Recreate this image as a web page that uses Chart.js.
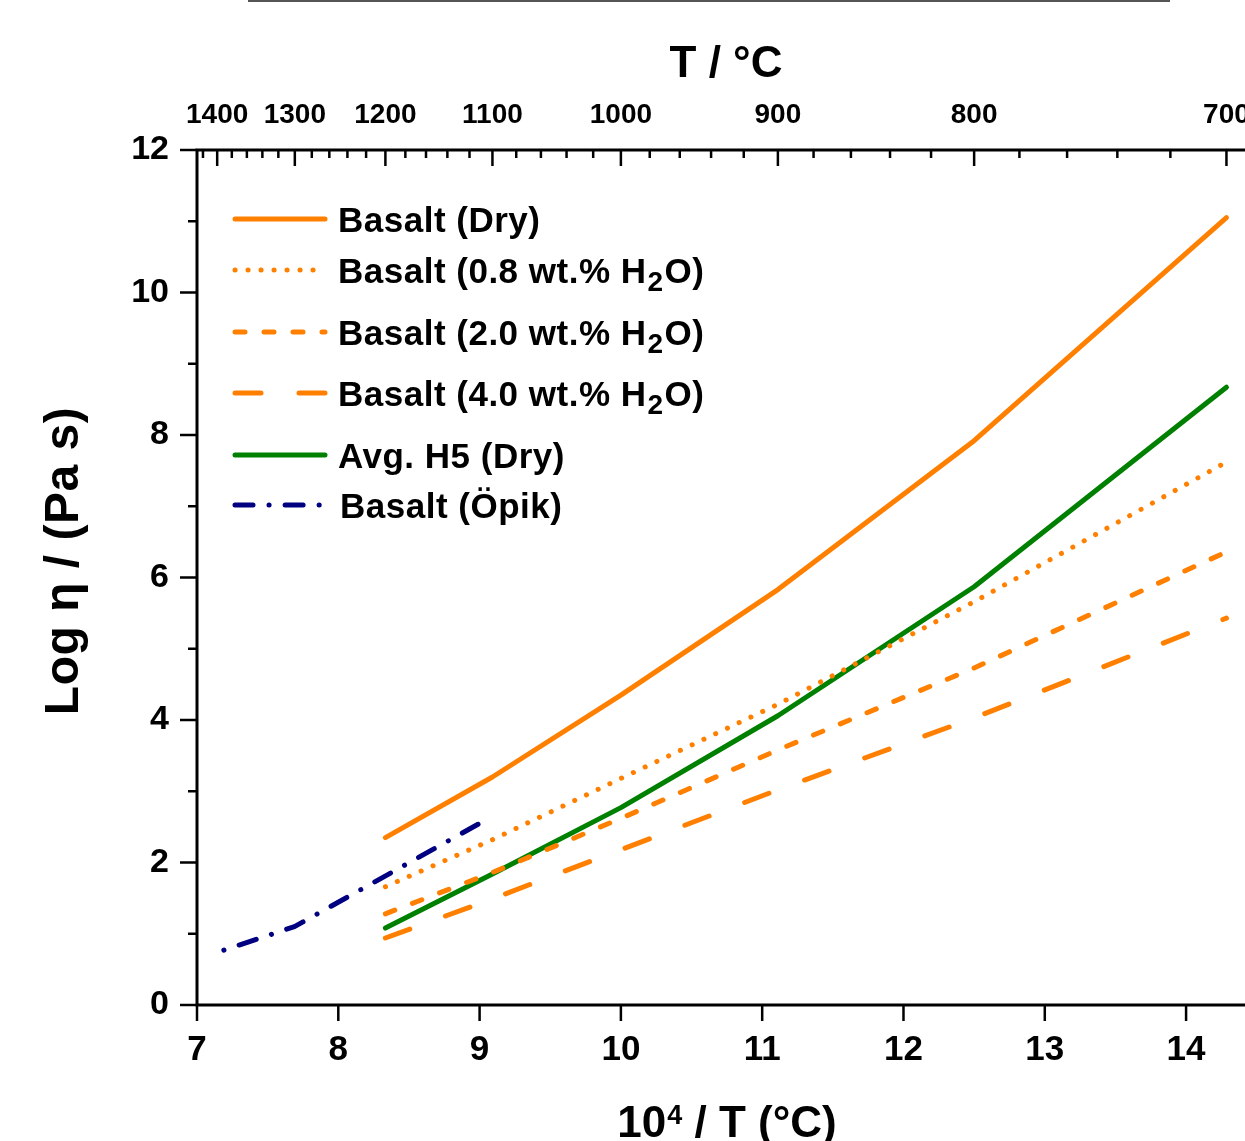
<!DOCTYPE html>
<html><head><meta charset="utf-8">
<script src="https://cdn.jsdelivr.net/npm/chart.js@4.4.1/dist/chart.umd.min.js"></script>
<style>
html,body{margin:0;padding:0;background:#fff;overflow:hidden;width:1245px;height:1141px;}
#wrap{position:absolute;left:0;top:0;width:1245px;height:1141px;}
#topline{position:absolute;left:248px;top:0;width:922px;height:2px;background:#555;}
</style></head><body>
<div id="wrap"><canvas id="c" width="1245" height="1141"></canvas></div>
<div id="topline"></div>
<script>
// ---- data ----
const tempC = [1200, 1100, 1000, 900, 800, 700];
const basaltDry = [2.35, 3.20, 4.35, 5.83, 7.92, 11.05];
const basalt08  = [1.66, 2.32, 3.18, 4.22, 5.66, 7.62];
const basalt20  = [1.28, 1.86, 2.62, 3.58, 4.73, 6.36];
const basalt40  = [0.94, 1.49, 2.18, 3.02, 4.03, 5.43];
const avgH5     = [1.08, 1.84, 2.77, 4.06, 5.87, 8.67];
const opikX = [7.19, 7.69, 9.01];
const opikY = [0.77, 1.10, 2.56];
const seriesLabels = ['Basalt (Dry)', 'Basalt (0.8 wt.% H₂O)', 'Basalt (2.0 wt.% H₂O)', 'Basalt (4.0 wt.% H₂O)', 'Avg. H5 (Dry)', 'Basalt (Öpik)'];
const xTicks = [7, 8, 9, 10, 11, 12, 13, 14];
const yTicks = [0, 2, 4, 6, 8, 10, 12];
const topTempTicks = [1400, 1300, 1200, 1100, 1000, 900, 800, 700];
const titleTop = 'T / °C';
const titleY = 'Log η / (Pa s)';
const titleBottom = ['10', '4', ' / T (°C)'];

const FONT = "'Liberation Sans', Arial, Helvetica, sans-serif";
const ORANGE = '#FF8000', GREEN = '#008000', NAVY = '#000080';

const pts = (vals) => tempC.map((t, i) => ({x: 1e4 / t, y: vals[i]}));

const datasets = [
  {label: seriesLabels[0], data: pts(basaltDry), borderColor: ORANGE, borderDash: []},
  {label: seriesLabels[1], data: pts(basalt08), borderColor: ORANGE, borderDash: [0.1, 12.9]},
  {label: seriesLabels[2], data: pts(basalt20), borderColor: ORANGE, borderDash: [10, 19]},
  {label: seriesLabels[3], data: pts(basalt40), borderColor: ORANGE, borderDash: [26, 38]},
  {label: seriesLabels[4], data: pts(avgH5), borderColor: GREEN, borderDash: []},
  {label: seriesLabels[5], data: opikX.map((x, i) => ({x, y: opikY[i]})), borderColor: NAVY, borderDash: [0.1, 16, 18, 16]}
].map(d => Object.assign(d, {borderWidth: 5, pointRadius: 0, fill: false, tension: 0, borderCapStyle: 'round', borderJoinStyle: 'round', backgroundColor: d.borderColor}));

function line(ctx, x1, y1, x2, y2) { ctx.beginPath(); ctx.moveTo(x1, y1); ctx.lineTo(x2, y2); ctx.stroke(); }

const axisDecor = {
  id: 'axisDecor',
  afterDraw(chart) {
    const {ctx, chartArea: a, scales: {x, y, x2}} = chart;
    ctx.save();
    ctx.strokeStyle = '#000';
    ctx.lineCap = 'butt';
    ctx.setLineDash([]);
    ctx.lineWidth = 3;
    ctx.beginPath();
    ctx.moveTo(chart.width + 5, a.top); ctx.lineTo(a.left, a.top); ctx.lineTo(a.left, a.bottom); ctx.lineTo(chart.width + 5, a.bottom);
    ctx.stroke();
    ctx.lineWidth = 2.5;
    // y ticks (outward)
    for (let v = y.min; v <= y.max; v++) {
      const py = y.getPixelForValue(v);
      const len = (v % 2 === 0) ? 17 : 9;
      line(ctx, a.left - len, py, a.left, py);
    }
    // bottom ticks (outward)
    x.ticks.forEach(t => { const px = x.getPixelForValue(t.value); line(ctx, px, a.bottom, px, a.bottom + 16); });
    // top ticks (inward): major at labelled temps, minor every 20 °C
    for (let T = 1420; T >= 680; T -= 20) {
      const v = 1e4 / T;
      if (v < x2.min || v > x2.max) continue;
      const px = x2.getPixelForValue(v);
      const len = (T % 100 === 0) ? 16 : 8;
      line(ctx, px, a.top, px, a.top + len);
    }
    // axis titles
    ctx.fillStyle = '#000';
    ctx.textBaseline = 'alphabetic';
    ctx.font = 'bold 44px ' + FONT;
    ctx.textAlign = 'center';
    ctx.fillText(titleTop, 726, 77);
    ctx.textAlign = 'left';
    const big = 'bold 44px ' + FONT, sup = 'bold 27px ' + FONT;
    ctx.font = big; const w0 = ctx.measureText(titleBottom[0]).width, w2 = ctx.measureText(titleBottom[2]).width;
    ctx.font = sup; const w1 = ctx.measureText(titleBottom[1]).width;
    let bx = 727 - (w0 + w1 + 1 + w2) / 2;
    const bb = 1137;
    ctx.font = big; ctx.fillText(titleBottom[0], bx, bb); bx += w0 + 1;
    ctx.font = sup; ctx.fillText(titleBottom[1], bx, bb - 13); bx += w1;
    ctx.font = big; ctx.fillText(titleBottom[2], bx, bb);
    ctx.save();
    ctx.translate(78, 561);
    ctx.rotate(-Math.PI / 2);
    ctx.textAlign = 'center';
    ctx.font = 'bold 48px ' + FONT;
    try { ctx.letterSpacing = '0.5px'; } catch (e) {}
    ctx.fillText(titleY, 0, 0);
    ctx.restore();
    ctx.restore();
  }
};

const legendDecor = {
  id: 'legendDecor',
  afterDraw(chart) {
    const ctx = chart.ctx;
    const rowsY = [219, 270, 332, 393, 455, 505];
    const x0 = 235, x1 = 325, tx = 338;
    chart.data.datasets.forEach((ds, i) => {
      const yy = rowsY[i];
      ctx.save();
      ctx.strokeStyle = ds.borderColor;
      ctx.lineWidth = 5;
      ctx.lineCap = 'round';
      ctx.setLineDash(ds.borderDash);
      ctx.lineDashOffset = (i === 5) ? 16.1 : 0;
      line(ctx, x0, yy, i === 5 ? 322 : x1, yy);
      ctx.setLineDash([]);
      ctx.fillStyle = '#000';
      ctx.textBaseline = 'alphabetic';
      ctx.textAlign = 'left';
      try { ctx.letterSpacing = '0.5px'; } catch (e) {}
      const base = yy + 12.5;
      const parts = ds.label.split('₂');
      let cx = tx + (i === 5 ? 2 : 0);
      parts.forEach((p, k) => {
        ctx.font = 'bold 35px ' + FONT;
        ctx.fillText(p, cx, base);
        cx += ctx.measureText(p).width;
        if (k < parts.length - 1) {
          ctx.font = 'bold 28px ' + FONT;
          ctx.fillText('2', cx + 1, base + 8);
          cx += ctx.measureText('2').width + 2;
        }
      });
      ctx.restore();
    });
  }
};

const tickFont = (size) => ({family: FONT, size, weight: 'bold'});
const noSidePad = (h) => (s) => { s.height = h; s.paddingLeft = 0; s.paddingRight = 0; };

new Chart(document.getElementById('c'), {
  type: 'line',
  data: {datasets},
  options: {
    responsive: false,
    animation: false,
    devicePixelRatio: 1,
    layout: {padding: 0},
    plugins: {legend: {display: false}, tooltip: {enabled: false}},
    scales: {
      x: {
        type: 'linear', position: 'bottom', min: 7, max: 14.417,
        grid: {display: false, drawTicks: false}, border: {display: false},
        afterBuildTicks: s => { s.ticks = xTicks.map(v => ({value: v})); },
        afterFit: noSidePad(136),
        ticks: {font: tickFont(35), color: '#000', padding: 24, maxRotation: 0, autoSkip: false},
        title: {display: false}
      },
      x2: {
        type: 'linear', position: 'top', min: 7, max: 14.417,
        grid: {display: false, drawTicks: false}, border: {display: false},
        afterBuildTicks: s => { s.ticks = topTempTicks.map(t => ({value: 1e4 / t})); },
        afterFit: noSidePad(150),
        ticks: {font: tickFont(28), color: '#000', padding: 18, maxRotation: 0, autoSkip: false,
                callback: v => String(Math.round(1e4 / v))},
        title: {display: false}
      },
      y: {
        type: 'linear', position: 'left', min: 0, max: 12,
        grid: {display: false, drawTicks: false}, border: {display: false},
        afterBuildTicks: s => { s.ticks = yTicks.map(v => ({value: v})); },
        afterFit: s => { s.width = 197; s.paddingTop = 0; s.paddingBottom = 0; },
        ticks: {font: tickFont(34), color: '#000', padding: 28},
        title: {display: false}
      }
    }
  },
  plugins: [axisDecor, legendDecor]
});
</script>
</body></html>
